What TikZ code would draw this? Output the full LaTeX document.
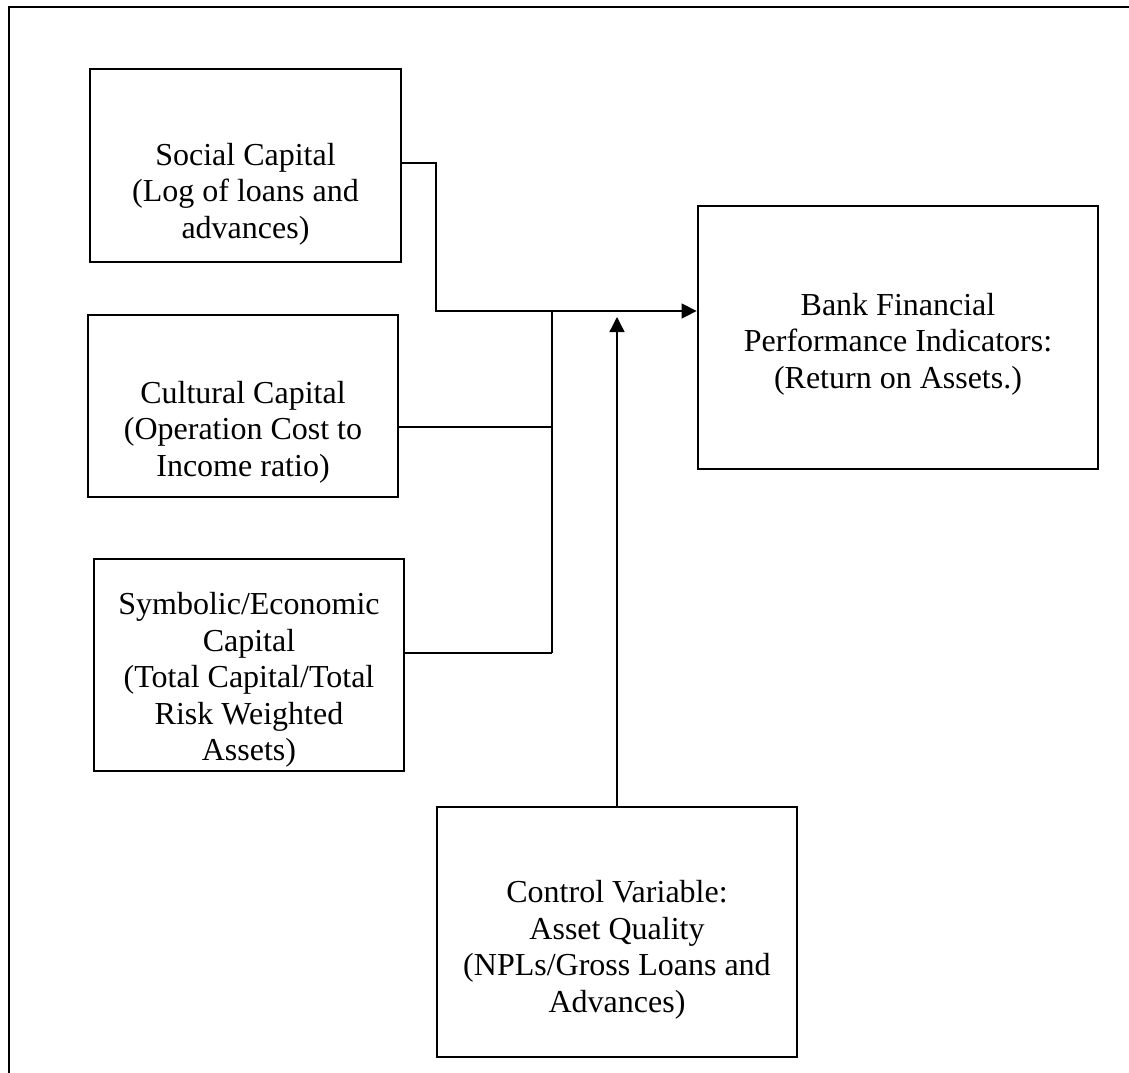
\documentclass[tikz,border=0pt]{standalone}
\usepackage{fontspec}
\setmainfont{Liberation Serif}
\usetikzlibrary{arrows.meta}
\begin{document}
\begin{tikzpicture}[x=1pt,y=-1pt,
  boxshape/.style={draw,line width=2.8pt,minimum width=#1,inner sep=0pt},
  boxtext/.style={align=center,inner sep=0pt,font=\fontsize{32}{36.5}\selectfont},
  conn/.style={line width=1.4pt},
  tip/.style={-{Triangle[length=15pt,width=15pt]}}]
\useasboundingbox (0,0) rectangle (1129,1072);
\draw[line width=2pt] (8.5,1080) -- (8.5,7) -- (1140,7);
% boxes
\node[boxshape=311pt,minimum height=193pt] (social) at (245.5,165.5) {};
\node[boxshape=310pt,minimum height=182pt] (cultural) at (243,406) {};
\node[boxshape=310pt,minimum height=212pt] (symbolic) at (249,665) {};
\node[boxshape=400pt,minimum height=263pt] (bank) at (898,337.5) {};
\node[boxshape=360pt,minimum height=250pt] (control) at (617,932) {};
% texts
\node[boxtext] (tsocial) at (245.5,194) {Social Capital\\(Log of loans and\\advances)};
\node[boxtext] (tcultural) at (243,432) {Cultural Capital\\(Operation Cost to\\Income ratio)};
\node[boxtext] (tsymbolic) at (249,680) {Symbolic/Economic\\Capital\\(Total Capital/Total\\Risk Weighted\\Assets)};
\node[boxtext] (tbank) at (898,344) {Bank Financial\\Performance Indicators:\\(Return on Assets.)};
\node[boxtext] (tcontrol) at (617,950) {Control Variable:\\Asset Quality\\(NPLs/Gross Loans and\\Advances)};
% connectors
\coordinate (s1) at (436,163);
\coordinate (s2) at (436,311);
\coordinate (jtop) at (552,311);
\coordinate (jcul) at (552,427);
\coordinate (jsym) at (552,653);
\coordinate (ctip) at (617,317);
\draw[conn,tip] (social.east |- s1) -- (s1) -- (s2) -- (bank.west |- s2);
\draw[conn] (cultural.east |- jcul) -- (jcul);
\draw[conn] (symbolic.east |- jsym) -- (jsym);
\draw[conn] (jtop) -- (jsym);
\draw[conn,tip] (control.north) -- (ctip);
\end{tikzpicture}
\end{document}
